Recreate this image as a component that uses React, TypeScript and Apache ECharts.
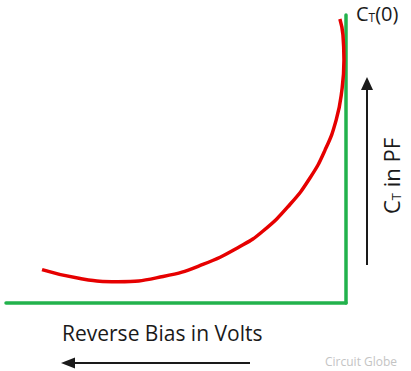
import React, { useEffect, useRef } from "react";
import * as echarts from "echarts";

// Reverse bias (V) and transition capacitance (pF, arbitrary units) along the curve
const reverseBias = [8.94, 7.82, 6.71, 5.38, 4.21, 3.12, 2.44, 1.65, 1.06, 0.62, 0.29, 0.12, 0.06, 0.09, 0.18];
const capacitance = [1.16, 0.85, 0.74, 0.92, 1.34, 1.96, 2.5, 3.42, 4.34, 5.3, 6.35, 7.4, 8.44, 9.31, 9.86];

const biasRange = [0, 10];
const capRange = [0, 10];

const GREEN = "#22b24c";
const RED = "#e60000";
const INK = "#1a1a1a";
const FONT = "'Open Sans', Lato, sans-serif";

export default function App() {
  const ref = useRef<HTMLDivElement>(null);

  useEffect(() => {
    if (!ref.current) return;
    const chart = echarts.init(ref.current, null, { renderer: "svg" });
    const points = reverseBias.map((v, i) => [v, capacitance[i]]);

    chart.setOption({
      animation: false,
      backgroundColor: "#ffffff",
      grid: { left: 6, right: 65, top: 15, bottom: 68 },
      xAxis: {
        type: "value",
        inverse: true,
        min: biasRange[0],
        max: biasRange[1],
        axisLine: { show: true, onZero: false, lineStyle: { color: GREEN, width: 3.5 } },
        axisTick: { show: false },
        axisLabel: { show: false },
        splitLine: { show: false },
      },
      yAxis: {
        type: "value",
        position: "right",
        min: capRange[0],
        max: capRange[1],
        axisLine: { show: true, onZero: false, lineStyle: { color: GREEN, width: 3.5 } },
        axisTick: { show: false },
        axisLabel: { show: false },
        splitLine: { show: false },
      },
      series: [
        {
          type: "line",
          data: points,
          smooth: 0.5,
          showSymbol: false,
          lineStyle: { color: RED, width: 3.5, cap: "butt" },
          z: 3,
        },
      ],
      graphic: [
        {
          type: "text",
          x: 356,
          y: 13,
          style: {
            text: "{a|C}{b|T}{a|(0)}",
            textVerticalAlign: "middle",
            rich: {
              a: { fontSize: 20, fontFamily: FONT, fill: INK },
              b: { fontSize: 12, fontFamily: FONT, fill: INK, padding: [9, 0, 0, 0] },
            },
          },
        },
        {
          type: "text",
          x: 391,
          y: 176,
          rotation: Math.PI / 2,
          style: {
            text: "{a|C}{b|T}{a| in PF}",
            textAlign: "center",
            textVerticalAlign: "middle",
            rich: {
              a: { fontSize: 22, fontFamily: FONT, fill: INK },
              b: { fontSize: 13, fontFamily: FONT, fill: INK, padding: [10, 0, 0, 0] },
            },
          },
        },
        // vertical arrow (capacitance grows upward)
        {
          type: "line",
          shape: { x1: 367, y1: 265, x2: 367, y2: 88 },
          style: { stroke: INK, lineWidth: 2 },
        },
        {
          type: "polygon",
          shape: { points: [[367, 77], [361, 90], [373, 90]] },
          style: { fill: INK },
        },
        {
          type: "text",
          x: 62,
          y: 333,
          style: {
            text: "Reverse Bias in Volts",
            fontSize: 21,
            fontFamily: FONT,
            fill: INK,
            textVerticalAlign: "middle",
          },
        },
        // horizontal arrow (reverse bias grows leftward)
        {
          type: "line",
          shape: { x1: 250, y1: 363, x2: 72, y2: 363 },
          style: { stroke: INK, lineWidth: 2 },
        },
        {
          type: "polygon",
          shape: { points: [[61, 363], [75, 357.5], [75, 368.5]] },
          style: { fill: INK },
        },
        {
          type: "text",
          x: 325,
          y: 361,
          style: {
            text: "Circuit Globe",
            fontSize: 12,
            fontFamily: FONT,
            fill: "#c4c4c4",
            textVerticalAlign: "middle",
          },
        },
      ],
    });

    return () => chart.dispose();
  }, []);

  return (
    <div
      ref={ref}
      style={{ position: "fixed", left: 0, top: 0, width: 411, height: 371 }}
    />
  );
}
